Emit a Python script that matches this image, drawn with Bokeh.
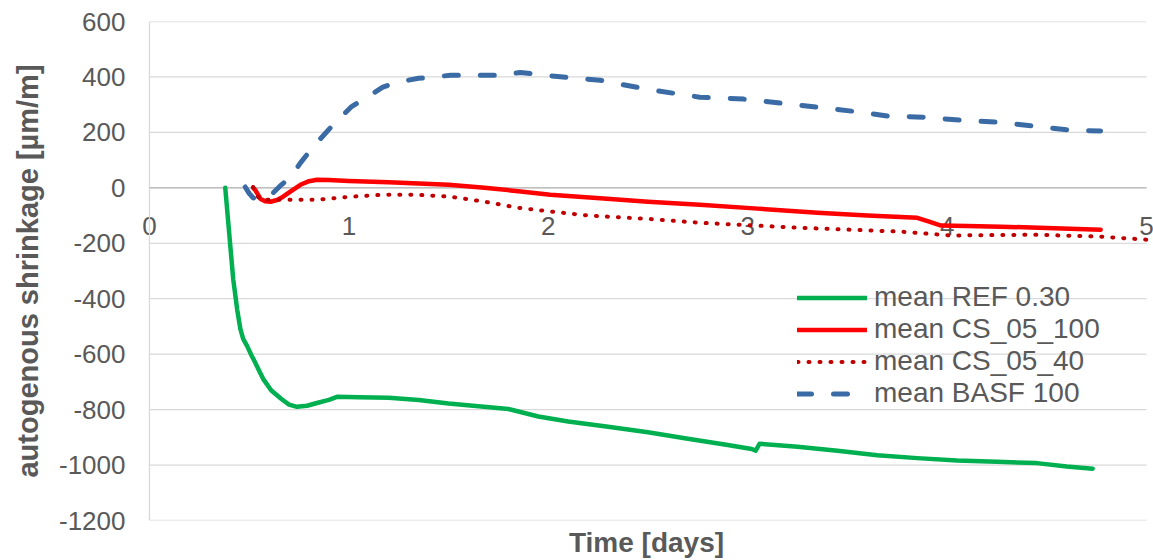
from bokeh.plotting import figure
from bokeh.models import FixedTicker, Legend, LegendItem, LabelSet, ColumnDataSource
from bokeh.core.properties import value
from bokeh.embed import file_html
from bokeh.resources import INLINE

# ---- data ----
ref_x = [0.38, 0.40, 0.42, 0.44, 0.456, 0.47, 0.49, 0.51, 0.53, 0.55, 0.57, 0.61, 0.66, 0.70, 0.74, 0.79,
         0.84, 0.90, 0.94, 1.05, 1.2, 1.35, 1.5, 1.65, 1.8, 1.95, 2.1, 2.3, 2.5, 2.7, 2.9, 3.02, 3.04,
         3.06, 3.25, 3.45, 3.65, 3.85, 4.05, 4.25, 4.45, 4.6, 4.73]
ref_y = [0, -165, -330, -440, -510, -545, -571, -602, -630, -660, -689, -730, -761, -782, -790, -786,
         -776, -765, -754, -755, -757, -765, -778, -788, -798, -825, -843, -862, -882, -905, -928, -942, -948,
         -923, -934, -948, -965, -975, -984, -988, -993, -1005, -1013]

cs100_x = [0.52, 0.53, 0.557, 0.58, 0.607, 0.64, 0.67, 0.71, 0.757, 0.80, 0.84, 0.9, 1.0, 1.2, 1.5, 1.68,
           1.85, 2.01, 2.26, 2.5, 2.76, 3.05, 3.35, 3.6, 3.85, 3.91, 3.97, 4.1, 4.27, 4.5, 4.77]
cs100_y = [0, -7, -40, -48, -50, -44, -32, -12, 11, 24, 29, 28, 25, 20, 11, 0,
           -12, -25, -38, -50, -61, -75, -90, -100, -108, -122, -136, -138, -140, -145, -151]

cs40_x = [0.52, 0.53, 0.557, 0.67, 0.84, 1.01, 1.17, 1.34, 1.51, 1.68, 1.85, 1.98, 2.2, 2.5, 2.76, 3.26,
          3.77, 4.02, 4.44, 4.77, 5.02]
cs40_y = [3, -20, -43, -43, -43, -32, -25, -25, -32, -50, -72, -83, -100, -112, -126, -144,
          -158, -172, -169, -176, -188]

basf_x = [0.48, 0.50, 0.52, 0.547, 0.58, 0.62, 0.66, 0.71, 0.757, 0.82, 0.91, 1.01, 1.09, 1.17, 1.24, 1.35,
          1.51, 1.76, 1.86, 2.0, 2.26, 2.5, 2.76, 2.98, 3.17, 3.35, 3.53, 3.70, 3.88, 4.07, 4.25, 4.43,
          4.62, 4.77]
basf_y = [3, -20, -36, -43, -35, -18, 10, 40, 90, 147, 219, 291, 327, 363, 381, 395,
          406, 406, 416, 405, 388, 355, 327, 320, 305, 291, 276, 259, 255, 244, 237, 223,
          208, 205]

series_names = ["mean REF 0.30", "mean CS_05_100", "mean CS_05_40", "mean BASF 100"]
x_ticks = [0, 1, 2, 3, 4, 5]
x_tick_labels = ["0", "1", "2", "3", "4", "5"]
y_ticks = [-1200, -1000, -800, -600, -400, -200, 0, 200, 400, 600]
y_tick_labels = ["-1200", "-1000", "-800", "-600", "-400", "-200", "0", "200", "400", "600"]
x_min, x_max = 0, 5
y_min, y_max = -1200, 600

FONT = "Liberation Sans"
GREY = "#595959"

p = figure(width=1153, height=560, x_range=(-0.05, 5.035), y_range=(y_min, y_max),
           output_backend="svg", toolbar_location=None,
           min_border_left=139, min_border_right=0, min_border_top=21, min_border_bottom=38)
p.outline_line_color = None
p.background_fill_color = "white"
p.xgrid.visible = False
p.ygrid.visible = False

# horizontal gridlines spanning x = 0..5 only
p.segment(x0=[x_min] * len(y_ticks), x1=[x_max] * len(y_ticks), y0=y_ticks, y1=y_ticks,
          line_color="#d9d9d9", line_width=1.3)
# vertical axis line at x = 0
p.segment(x0=[x_min], x1=[x_min], y0=[y_min], y1=[y_max], line_color="#d9d9d9", line_width=1.3)
# horizontal axis line at y = 0
p.segment(x0=[x_min], x1=[x_max], y0=[0], y1=[0], line_color="#bfbfbf", line_width=1.5)

# y axis (labels and title only)
p.yaxis.ticker = FixedTicker(ticks=y_ticks)
p.yaxis.major_label_overrides = {t: s for t, s in zip(y_ticks, y_tick_labels)}
p.yaxis.axis_line_color = None
p.yaxis.major_tick_line_color = None
p.yaxis.minor_tick_line_color = None
p.yaxis.major_tick_out = 0
p.yaxis.major_tick_in = 0
p.yaxis.major_label_standoff = 14
p.yaxis.major_label_text_font = FONT
p.yaxis.major_label_text_font_size = "26px"
p.yaxis.major_label_text_color = GREY
p.yaxis.axis_label = "autogenous shrinkage [µm/m]"
p.yaxis.axis_label_text_font = FONT
p.yaxis.axis_label_text_font_size = "29px"
p.yaxis.axis_label_text_font_style = "bold"
p.yaxis.axis_label_text_color = GREY
p.yaxis.axis_label_standoff = 12

# x axis: title only
p.xaxis.ticker = FixedTicker(ticks=[])
p.xaxis.axis_line_color = None
p.xaxis.major_tick_line_color = None
p.xaxis.minor_tick_line_color = None
p.xaxis.major_tick_out = 0
p.xaxis.major_label_standoff = 0
p.xaxis.major_label_text_font_size = "1px"
p.xaxis.axis_label = "Time [days]"
p.xaxis.axis_label_text_font = FONT
p.xaxis.axis_label_text_font_size = "28px"
p.xaxis.axis_label_text_font_style = "bold"
p.xaxis.axis_label_text_color = GREY
p.xaxis.axis_label_standoff = 6

# x tick labels sitting under the zero line
xlab_src = ColumnDataSource(dict(x=x_ticks, y=[0] * len(x_ticks), t=x_tick_labels))
xlabels = LabelSet(x="x", y="y", text="t", source=xlab_src, level="underlay",
                   text_font=value(FONT), text_font_size=value("26px"), text_color=GREY,
                   text_align="center", text_baseline="top", y_offset=-29)
p.add_layout(xlabels)

r_ref = p.line(ref_x, ref_y, line_color="#00b050", line_width=4.5, line_join="round", line_cap="round")
r_100 = p.line(cs100_x, cs100_y, line_color="#ff0000", line_width=4.5, line_join="round", line_cap="round")
r_40 = p.line(cs40_x, cs40_y, line_color="#c00000", line_width=4, line_join="round", line_cap="round",
              line_dash="1 10")
r_basf = p.line(basf_x, basf_y, line_color="#3b6ba5", line_width=5, line_join="round", line_cap="round",
                line_dash="14 22")

legend = Legend(items=[LegendItem(label=series_names[0], renderers=[r_ref]),
                       LegendItem(label=series_names[1], renderers=[r_100]),
                       LegendItem(label=series_names[2], renderers=[r_40]),
                       LegendItem(label=series_names[3], renderers=[r_basf])],
                location=(658, 111))
legend.border_line_color = None
legend.background_fill_alpha = 0
legend.padding = 0
legend.margin = 0
legend.spacing = 0
legend.glyph_width = 70
legend.glyph_height = 31
legend.label_height = 31
legend.label_standoff = 7
legend.label_text_font = FONT
legend.label_text_font_size = "28px"
legend.label_text_color = GREY
p.add_layout(legend, "center")

open("out.html", "w").write(file_html(p, INLINE))
